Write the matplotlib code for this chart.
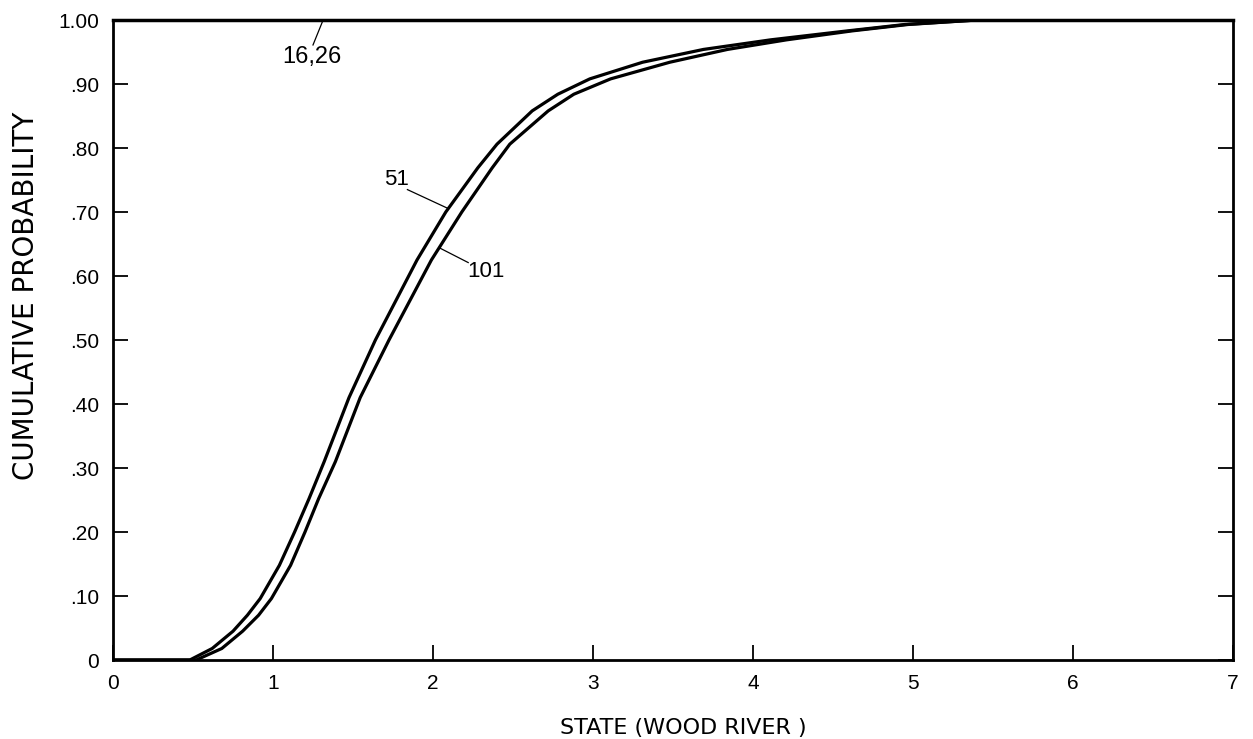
import numpy as np
import matplotlib
matplotlib.use('Agg')
import matplotlib.pyplot as plt

# Cumulative probability curves (state on x, probability on y)
p_levels = [0, 0, 0.018, 0.045, 0.07, 0.096, 0.148, 0.20, 0.252, 0.31, 0.41,
            0.50, 0.625, 0.70, 0.769, 0.806, 0.858, 0.884, 0.908, 0.934,
            0.954, 0.969, 0.983, 0.993, 1.0, 1.0]
x_51 = [0.0, 0.48, 0.62, 0.75, 0.84, 0.92, 1.04, 1.135, 1.225, 1.32, 1.475,
        1.64, 1.90, 2.08, 2.28, 2.40, 2.62, 2.78, 2.98, 3.31,
        3.69, 4.11, 4.59, 4.95, 5.40, 7.0]
x_101 = [0.0, 0.52, 0.68, 0.81, 0.91, 0.99, 1.11, 1.20, 1.285, 1.39, 1.545,
         1.725, 1.99, 2.18, 2.37, 2.48, 2.72, 2.88, 3.11, 3.48,
         3.84, 4.21, 4.62, 4.97, 5.40, 7.0]
# 16 and 26 sit on the 1.00 line
x_16_26 = [0.0, 7.0]
p_16_26 = [1.0, 1.0]

x_ticks = [0, 1, 2, 3, 4, 5, 6, 7]
y_ticks = [0, 0.1, 0.2, 0.3, 0.4, 0.5, 0.6, 0.7, 0.8, 0.9, 1.0]
y_ticklabels = ['0', '.10', '.20', '.30', '.40', '.50', '.60', '.70', '.80', '.90', '1.00']

plt.rcParams['font.family'] = ['Liberation Sans', 'DejaVu Sans']

fig = plt.figure(figsize=(12.53, 7.39), dpi=100)
ax = fig.add_axes([113/1253, 1 - 660/739, 1120/1253, 640/739])

ax.plot(x_51, p_levels, color='black', lw=2.3, solid_joinstyle='round')
ax.plot(x_101, p_levels, color='black', lw=2.3, solid_joinstyle='round')
ax.plot(x_16_26, p_16_26, color='black', lw=2.5, clip_on=False)

ax.set_xlim(0, 7)
ax.set_ylim(0, 1.0)
ax.set_xticks(x_ticks)
ax.set_yticks(y_ticks)
ax.set_yticklabels(y_ticklabels)
ax.tick_params(direction='in', length=11, width=1.3, labelsize=15, pad=10,
               right=True, top=False)

for s in ax.spines.values():
    s.set_linewidth(2.0)

# curve labels with leader lines
ax.text(1.24, 0.942, '16,26', fontsize=17, ha='center', va='center')
ax.plot([1.25, 1.31], [0.961, 0.998], color='black', lw=0.9)
ax.text(1.77, 0.751, '51', fontsize=16, ha='center', va='center')
ax.plot([1.84, 2.09], [0.735, 0.706], color='black', lw=0.9)
ax.text(2.33, 0.607, '101', fontsize=16, ha='center', va='center')
ax.plot([2.04, 2.22], [0.644, 0.621], color='black', lw=0.9)

ax.set_xlabel('STATE (WOOD RIVER )', fontsize=16, family='DejaVu Sans')
ax.xaxis.set_label_coords(0.509, -0.09)
ax.set_ylabel('CUMULATIVE PROBABILITY', fontsize=20, family='DejaVu Sans',
              va='center')
ax.yaxis.set_label_coords(-0.078, 0.569)

fig.savefig('out.png', dpi=100)
